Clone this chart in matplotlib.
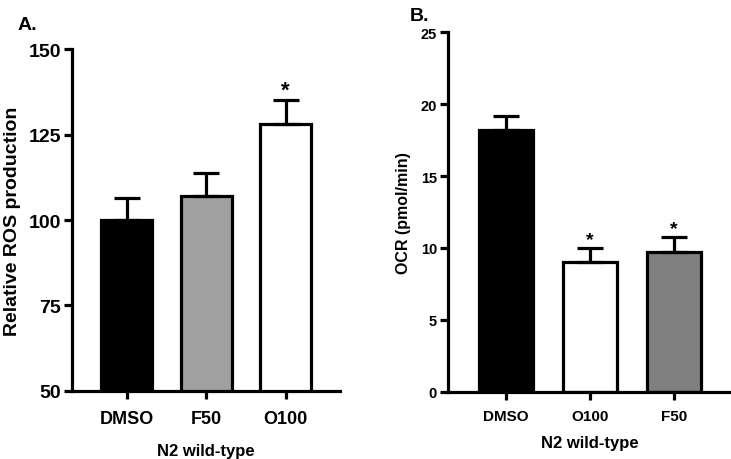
import numpy as np
import matplotlib
matplotlib.use("Agg")
from matplotlib import pyplot as plt

plt.rcParams['font.family'] = ['Liberation Sans', 'DejaVu Sans']
plt.rcParams['font.weight'] = 'bold'

# panel A - ROS
ros_labels = ['DMSO', 'F50', 'O100']
ros_mean = [100.0, 107.0, 128.2]
ros_sem = [6.5, 6.7, 6.8]
ros_colors = ['black', '#a0a0a0', 'white']
ros_star = [False, False, True]

# panel B - OCR
ocr_labels = ['DMSO', 'O100', 'F50']
ocr_mean = [18.2, 9.0, 9.7]
ocr_sem = [1.0, 1.0, 1.05]
ocr_colors = ['black', 'white', '#808080']
ocr_star = [False, True, True]

fig = plt.figure(figsize=(7.31, 4.6), dpi=100)
axA = fig.add_axes([0.0985, 0.148, 0.366, 0.743])
axB = fig.add_axes([0.613, 0.146, 0.387, 0.782])


def draw(ax, labels, mean, sem, colors, star, lw, fs_cat, star_fs):
    x = np.arange(len(labels))
    ax.bar(x, mean, width=0.64, color=colors, edgecolor='black', linewidth=lw, zorder=2)
    ax.errorbar(x, mean, yerr=[np.zeros(len(mean)), sem], fmt='none', ecolor='black',
                elinewidth=lw, capsize=9.4, capthick=lw, zorder=3)
    for i in range(len(x)):
        if star[i]:
            ax.text(x[i], mean[i] + sem[i], '*', ha='center', va='bottom',
                    fontsize=star_fs, fontweight='bold')
    ax.set_xticks(x)
    ax.set_xticklabels(labels, fontsize=fs_cat, fontweight='bold')
    ax.set_xlim(-0.69, 2.68)
    for s in ['top', 'right']:
        ax.spines[s].set_visible(False)
    for s in ['left', 'bottom']:
        ax.spines[s].set_linewidth(lw)
    ax.tick_params(axis='both', width=lw, length=6, direction='out')
    ax.tick_params(axis='y', pad=2)


draw(axA, ros_labels, ros_mean, ros_sem, ros_colors, ros_star, 2.3, 13, 16)
axA.set_ylim(50, 150)
axA.set_yticks([50, 75, 100, 125, 150])
axA.set_yticklabels(['50', '75', '100', '125', '150'], fontsize=14, fontweight='bold')
axA.tick_params(axis='x', pad=8)
axA.set_ylabel('Relative ROS production', fontsize=14, fontweight='bold', labelpad=5)
axA.set_xlabel('N2 wild-type', fontsize=12, fontweight='bold', labelpad=11)
fig.text(0.024, 0.934, 'A.', fontsize=14, fontweight='bold')

draw(axB, ocr_labels, ocr_mean, ocr_sem, ocr_colors, ocr_star, 2.3, 11, 14)
axB.set_ylim(0, 25)
axB.set_yticks([0, 5, 10, 15, 20, 25])
axB.set_yticklabels(['0', '5', '10', '15', '20', '25'], fontsize=10.5, fontweight='bold')
axB.tick_params(axis='x', pad=6)
axB.set_ylabel('OCR (pmol/min)', fontsize=11.5, fontweight='bold', labelpad=7)
axB.set_xlabel('N2 wild-type', fontsize=12, fontweight='bold', labelpad=9)
fig.text(0.56, 0.955, 'B.', fontsize=14, fontweight='bold')

fig.savefig('out.png', dpi=100)
